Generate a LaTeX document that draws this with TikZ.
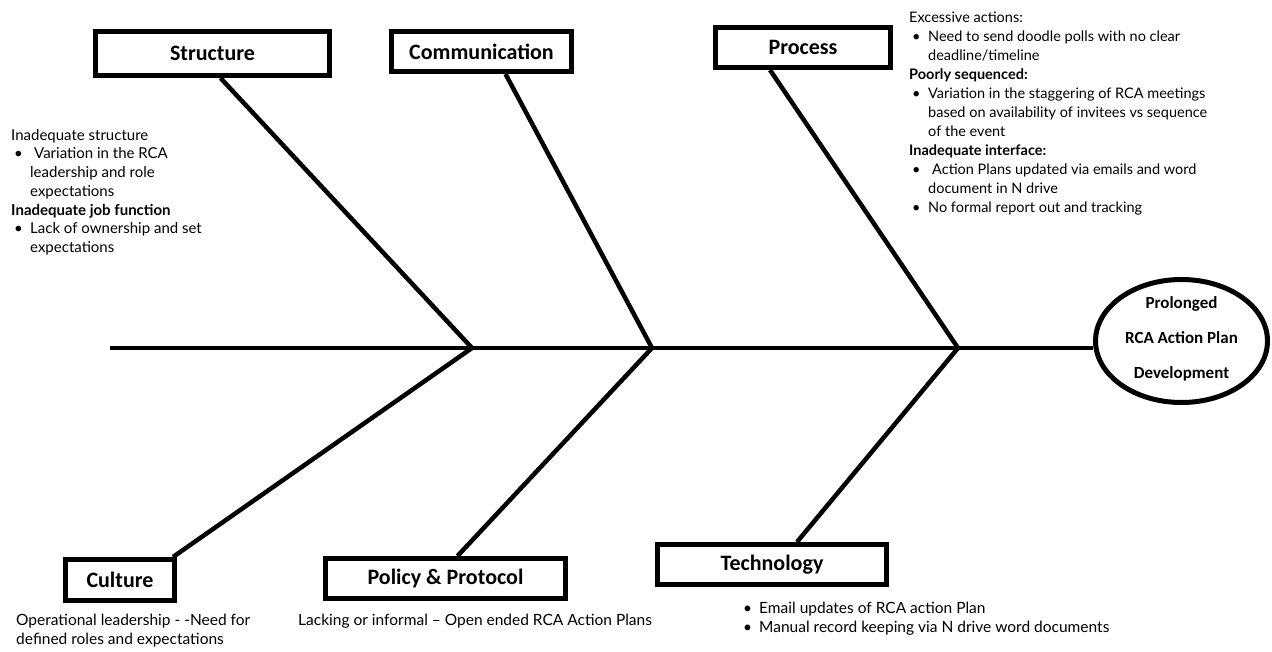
\documentclass[tikz,border=0pt]{standalone}
\usepackage{fontspec}
\setmainfont{Lato}
\newfontfamily\labelfont{Carlito}
\usetikzlibrary{shapes.geometric}
\newcommand{\myb}{\hspace*{3pt}\makebox[16pt][l]{\textbullet}}
\newcommand{\myc}{\hspace*{19pt}}
\begin{document}
\begin{tikzpicture}[x=1pt,y=-1pt,
  catbox/.style={draw, line width=5pt, inner sep=0pt, font=\labelfont\bfseries\fontsize{22}{26}\selectfont},
  bone/.style={line width=4.5pt},
  note/.style={align=left, anchor=north west, inner sep=0pt, font=\fontsize{15}{18.7}\selectfont}]
\useasboundingbox (0,0) rectangle (1272,652);

% category boxes
\node[catbox, minimum width=234pt, minimum height=44pt] (st) at (212.5,53.5) {Structure};
\node[catbox, minimum width=180pt, minimum height=40pt] (co) at (481.5,51.5) {Communication};
\node[catbox, minimum width=175pt, minimum height=40pt] (pr) at (803,47.5) {Process};
\node[catbox, minimum width=109pt, minimum height=41pt] (cu) at (120,580) {Culture};
\node[catbox, minimum width=240pt, minimum height=40pt] (pp) at (445.5,578.5) {Policy \& Protocol};
\node[catbox, minimum width=229pt, minimum height=40pt] (te) at (772,564.5) {Technology};

% effect
\node[draw, ellipse, line width=5pt, minimum width=172pt, minimum height=123pt, inner sep=0pt] (goal) at (1181.5,341) {};
\node[align=center, inner sep=0pt, font=\labelfont\bfseries\fontsize{17}{35}\selectfont] (goaltext) at (1181.5,339) {Prolonged\\RCA Action Plan\\Development};

% spine and bones
\coordinate (tail) at (110,348);
\coordinate (j1) at (472,348);
\coordinate (j2) at (652,348);
\coordinate (j3) at (958,348);
\draw[bone] (tail) -- (tail -| goal.west);
\draw[bone] ([xshift=8pt]st.south) -- (j1);
\draw[bone] ([xshift=24pt]co.south) -- (j2);
\draw[bone] ([xshift=-33pt]pr.south) -- (j3);
\draw[bone] (j1) -- ([xshift=-4pt]cu.north east);
\draw[bone] (j2) -- ([xshift=12pt]pp.north);
\draw[bone] (j3) -- ([xshift=25pt]te.north);

% notes
\node[note] (nst) at (11,129) {Inadequate structure\\
\myb\hspace*{4pt}Variation in the RCA\\
\myc leadership and role\\
\myc expectations\\
\textbf{Inadequate job function}\\
\myb Lack of ownership and set\\
\myc expectations};

\node[note, font=\fontsize{14.5}{19}\selectfont] (npr) at (909,12) {Excessive actions:\\
\myb Need to send doodle polls with no clear\\
\myc deadline/timeline\\
\textbf{Poorly sequenced:}\\
\myb Variation in the staggering of RCA meetings\\
\myc based on availability of invitees vs sequence\\
\myc of the event\\
\textbf{Inadequate interface:}\\
\myb\hspace*{4pt}Action Plans updated via emails and word\\
\myc document in N drive\\
\myb No formal report out and tracking};

\node[note, font=\fontsize{15.5}{18.5}\selectfont] (ncu) at (16,614) {Operational leadership - -Need for\\defined roles and expectations};
\node[note, font=\fontsize{15.5}{18.5}\selectfont] (npp) at (298,614) {Lacking or informal -- Open ended RCA Action Plans};
\node[note, font=\fontsize{15.5}{18.5}\selectfont] (nte) at (740,602) {\myb Email updates of RCA action Plan\\
\myb Manual record keeping via N drive word documents};
\end{tikzpicture}
\end{document}
